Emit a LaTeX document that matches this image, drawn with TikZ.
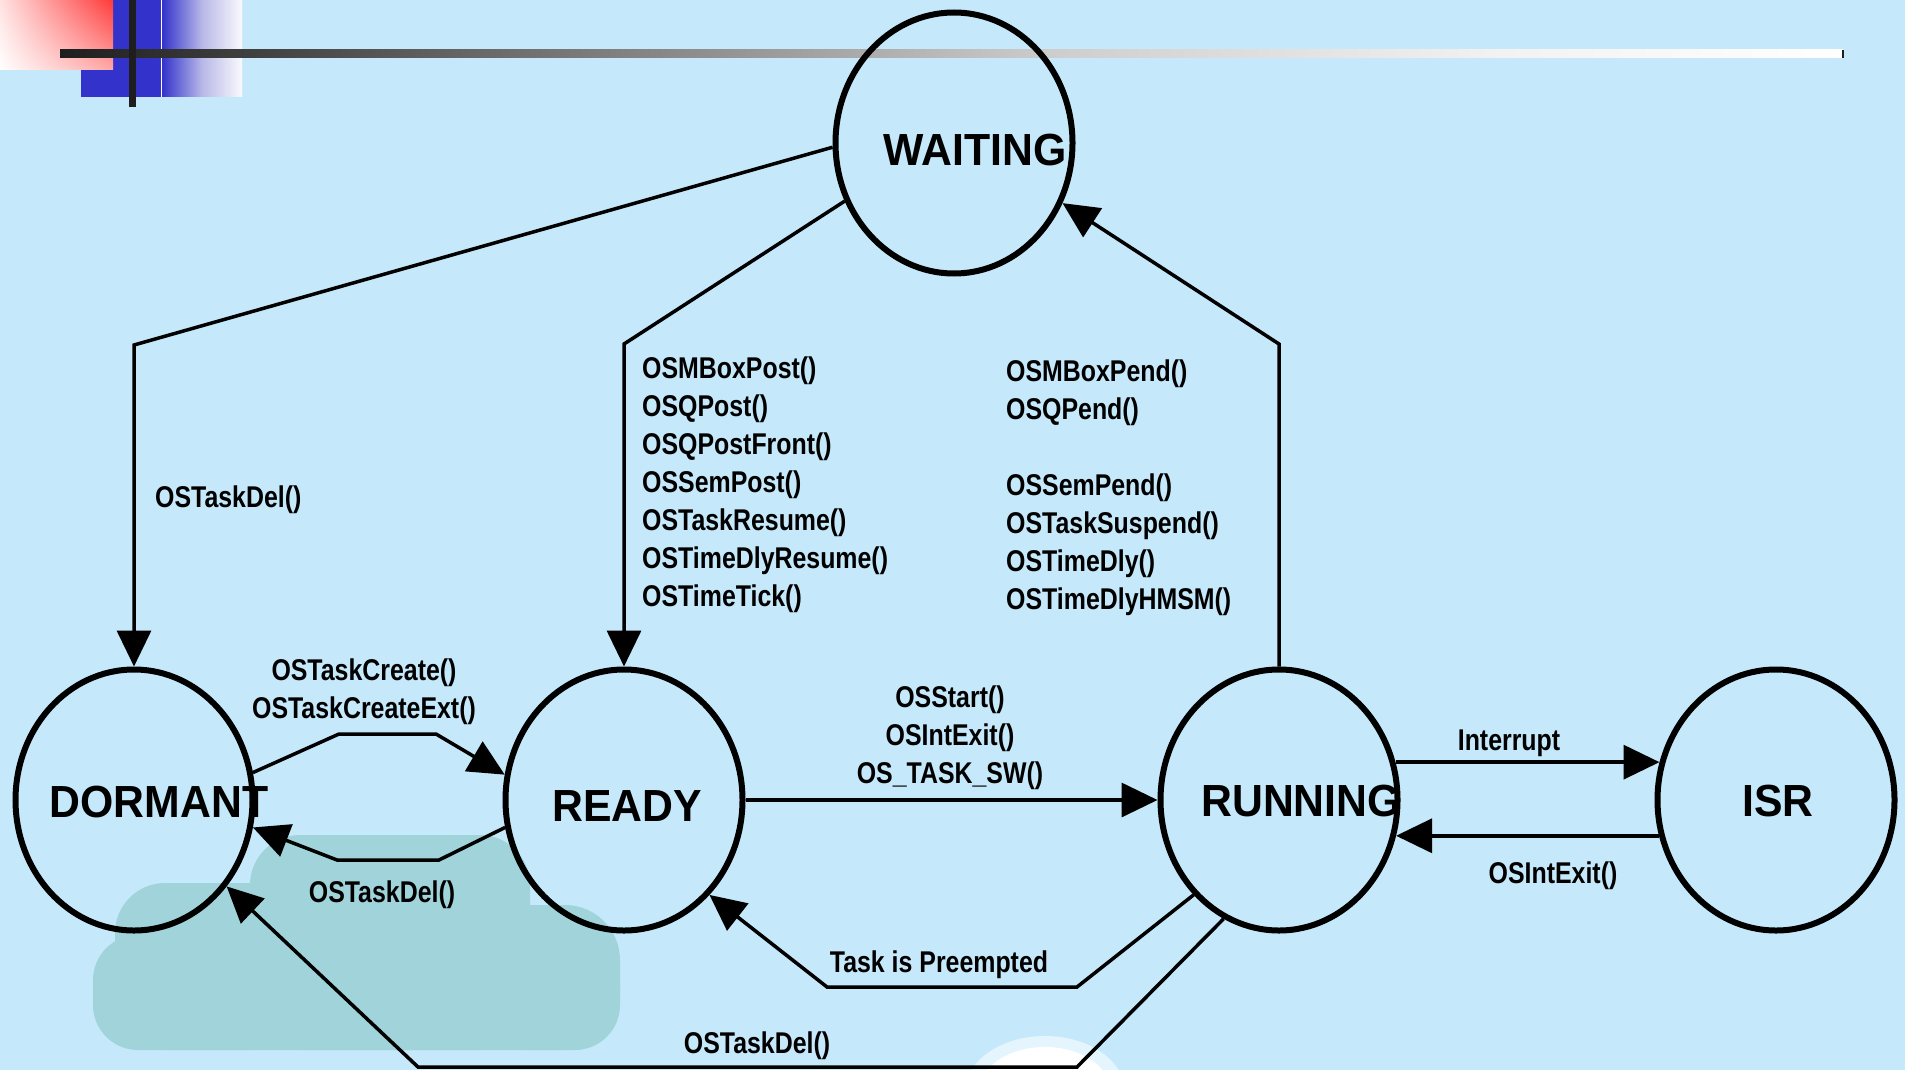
\documentclass[tikz,border=0pt]{standalone}
\usepackage{fontspec}
\setmainfont{Liberation Sans}
\newfontfamily\statefont[FakeStretch=0.95]{Liberation Sans}
\newfontfamily\callfont[FakeStretch=0.83]{Liberation Sans}
\usetikzlibrary{positioning,arrows.meta,shapes.geometric,shadings}
\definecolor{slidebg}{RGB}{197,233,250}
\definecolor{cloudteal}{RGB}{160,212,218}
\definecolor{barblue}{RGB}{51,51,204}
\definecolor{barlav}{RGB}{184,184,232}
\definecolor{barred}{RGB}{255,58,58}
\definecolor{redpale}{RGB}{255,226,226}
\definecolor{redmid}{RGB}{255,168,168}
\definecolor{bardark}{RGB}{30,30,30}
\pgfdeclarehorizontalshading{barfade}{100bp}{%
  rgb(0bp)=(.118,.118,.118); rgb(25bp)=(.118,.118,.118);
  rgb(42.9bp)=(.557,.557,.557); rgb(52.8bp)=(.804,.804,.804);
  rgb(57bp)=(.855,.855,.855); rgb(65.4bp)=(.949,.949,.949);
  rgb(75bp)=(1,1,1); rgb(100bp)=(1,1,1)}

\begin{document}
\begin{tikzpicture}[x=1pt, y=-1pt,
    state/.style={draw, ellipse, line width=6pt, minimum width=237pt,
                  minimum height=261pt, inner sep=0pt},
    statename/.style={font=\statefont\bfseries\fontsize{45}{54}\selectfont, inner sep=0pt},
    call/.style={font=\callfont\bfseries\fontsize{30}{38}\selectfont, inner sep=0pt},
    arr/.style={-{Triangle[length=36pt,width=34pt]}, line width=3.5pt}
  ]
  \useasboundingbox (0,0) rectangle (1905,1070);
  \clip (0,0) rectangle (1905,1070);
  \fill[slidebg] (0,0) rectangle (1905,1070);

  % ===== Background clouds =====
  \fill[cloudteal, rounded corners=45pt] (93,935) rectangle (620,1050);
  \fill[cloudteal, rounded corners=50pt] (115,883) rectangle (300,1050);
  \fill[cloudteal, rounded corners=50pt] (250,835) rectangle (530,1050);
  \fill[cloudteal, rounded corners=55pt] (470,905) rectangle (620,1050);
  \fill[white!55!slidebg] (1045,1092) ellipse (80 and 56);
  \fill[white] (1045,1090) ellipse (65 and 43);

  % ===== Slide decoration (top left) =====
  \fill[white]   (81,0) rectangle (242,97);
  \fill[barblue] (81,0) rectangle (161,97);
  \shade[left color=barblue, right color=white!97!barblue, middle color=barlav]
    (162,0) rectangle (242,97);
  \shade[upper left=redpale, upper right=barred, lower left=white, lower right=redmid]
    (0,0) rectangle (113,70);
  \shade[shading=barfade] (60,50) rectangle (1843,58);
  \fill[bardark] (1842,50) rectangle (1844,58);
  \fill[bardark] (129,0) rectangle (136,107);

  % ===== States =====
  \node[state, label={[statename, xshift=21pt, yshift=-7pt]center:WAITING}] (waiting) at (954,143) {};
  \node[state, label={[statename, xshift=25pt, yshift=-2pt]center:DORMANT}] (dormant) at (134,800) {};
  \node[state, label={[statename, xshift=3pt, yshift=-6pt]center:READY}]    (ready)   at (624,800) {};
  \node[state, label={[statename, xshift=22pt, yshift=-1pt]center:RUNNING}] (running) at (1279,800) {};
  \node[state, label={[statename, xshift=2pt, yshift=-1pt]center:ISR}]      (isr)     at (1776,800) {};

  % ===== Transitions =====
  \draw[arr] (waiting.182) -- (dormant.north |- 0,345) -- (dormant.north);
  \draw[arr] (waiting.208) -- (ready.north |- 0,344) -- (ready.north);
  \draw[arr] (running.north) -- (running.north |- 0,344) -- (waiting.-29);
  \draw[arr] (dormant.13) -- (339,734) -- (436,734) -- (ready.168);
  \draw[arr] (ready.193) -- (439,860) -- (337,860) -- (dormant.-13);
  \draw[arr] (ready.east) -- (running.west);
  \draw[arr] (running.18) -- (isr.162);
  \draw[arr] (isr.197) -- (running.-17);
  \draw[arr] (running.228) -- (1077,987) -- (827,987) -- (ready.-48);
  \draw[arr] (running.245) -- (1077,1067) -- (418,1067) -- (dormant.-43);

  % ===== Labels =====
  \node[call, anchor=base west] (delwait) at (155,507) {OSTaskDel()};
  \node[call, anchor=north west, align=left] (postlist) at (642,357)
    {OSMBoxPost()\\OSQPost()\\OSQPostFront()\\OSSemPost()\\OSTaskResume()\\OSTimeDlyResume()\\OSTimeTick()};
  \node[call, anchor=north west, align=left] (pendlist) at (1006,360)
    {OSMBoxPend()\\OSQPend()\\[38pt]OSSemPend()\\OSTaskSuspend()\\OSTimeDly()\\OSTimeDlyHMSM()};
  \node[call, align=center] (createlbl) at (364,692) {OSTaskCreate()\\OSTaskCreateExt()};
  \node[call, anchor=base] (delready) at (382,902) {OSTaskDel()};
  \node[call, align=center] (startlbl) at (950,738) {OSStart()\\OSIntExit()\\OS\_TASK\_SW()};
  \node[call, anchor=base] (intlbl) at (1509,750) {Interrupt};
  \node[call, anchor=base] (exitlbl) at (1553,883) {OSIntExit()};
  \node[call, anchor=base] (preemptlbl) at (939,972) {Task is Preempted};
  \node[call, anchor=base] (delrun) at (757,1053) {OSTaskDel()};
\end{tikzpicture}
\end{document}
